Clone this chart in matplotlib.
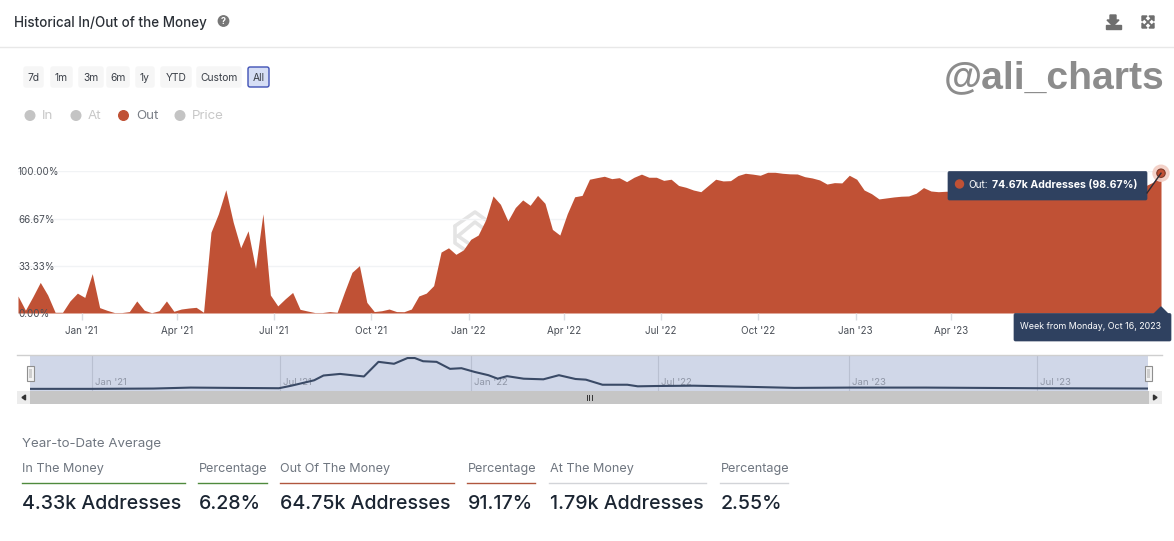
import matplotlib
matplotlib.use('Agg')
import matplotlib.pyplot as plt
import matplotlib.dates as mdates
from matplotlib.patches import Rectangle, Circle, FancyBboxPatch, Polygon
import pandas as pd

W, H = 1174, 541
plt.rcParams['font.family'] = ['Inter', 'DejaVu Sans']

# weekly share of addresses out of the money (%)
out_pct = [
    12, 2, 11.5, 21.6, 12.7, 0.5, 0.5, 8.5, 14, 11,
    27.8, 3.8, 1.9, 0.3, 0.3, 1, 8.5, 2, 0.2, 1.6,
    8.5, 1.2, 2.8, 3.5, 4, 0.5, 57, 70, 87, 64,
    46, 58, 31.5, 70, 12.7, 5, 10, 14.5, 2.6, 1.4,
    0.3, 0.3, 1, 0.5, 15, 28.7, 33.4, 7.5, 1, 1.6,
    2.8, 1, 0.9, 2.8, 12, 14, 19.3, 43, 46, 41.4,
    44.5, 52, 55, 65.6, 82.6, 76.7, 65, 74.4, 79.8, 76,
    83, 77.4, 59, 55, 70, 82, 83, 94.4, 95.5, 96.5,
    94.8, 95.5, 92.7, 95.8, 98, 95.8, 95.8, 93.6, 94.4, 90,
    88.7, 86.8, 85.6, 90, 94.4, 93.2, 93.4, 97, 98.6, 98,
    97.2, 99.3, 99.3, 98.6, 98.2, 98.1, 96.2, 95.3, 93.9, 91,
    92, 91.8, 97.2, 94.4, 86.8, 84.2, 80.5, 81.2, 81.9, 82.4,
    82.6, 84.5, 88.5, 86.1, 85.6, 85.9, 86, 86, 87, 87,
    88, 88, 89, 89, 90, 90, 90, 89, 89, 88,
    88, 88, 88, 87, 87, 87, 87, 87, 88, 88,
    88, 89, 90, 92.5, 98.67,
]
week_dates = pd.date_range('2020-11-02', periods=len(out_pct), freq='7D')

x_tick_dates = ['2021-01-01', '2021-04-01', '2021-07-01', '2021-10-01', '2022-01-01',
                '2022-04-01', '2022-07-01', '2022-10-01', '2023-01-01', '2023-04-01']
x_tick_labels = ["Jan '21", "Apr '21", "Jul '21", "Oct '21", "Jan '22",
                 "Apr '22", "Jul '22", "Oct '22", "Jan '23", "Apr '23"]
y_ticks = [0, 33.33, 66.67, 100]
y_tick_labels = ['0.00%', '33.33%', '66.67%', '100.00%']

# navigator line
nav_dates = ['2020-11-02', '2021-01-01', '2021-03-01', '2021-04-06', '2021-05-13', '2021-06-30',
             '2021-07-12', '2021-08-03', '2021-08-12', '2021-08-28', '2021-09-20', '2021-10-04',
             '2021-10-19', '2021-11-01', '2021-11-08', '2021-11-16', '2021-11-29', '2021-12-12',
             '2021-12-23', '2022-01-05', '2022-01-18', '2022-01-27', '2022-02-05', '2022-02-21',
             '2022-03-12', '2022-03-27', '2022-04-12', '2022-04-22', '2022-05-08', '2022-06-01',
             '2022-06-11', '2022-06-29', '2022-08-04', '2022-09-17', '2022-11-09', '2023-01-03',
             '2023-03-15', '2023-07-01', '2023-10-16']
nav_values = [2.8, 2.8, 3.7, 6.5, 5.6, 4.6,
              12, 27.8, 41.7, 46.3, 38.9, 81.5,
              75.9, 92.6, 92.6, 83.3, 81.5, 61.1,
              63, 51.9, 42.6, 32.4, 39.8, 32.4,
              30.6, 42.6, 31.5, 29.6, 14.8, 14.8,
              10.2, 11.1, 12, 9.3, 5.6, 6.5,
              6.5, 4.6, 3.7]
nav_tick_dates = ['2021-01-01', '2021-07-01', '2022-01-01', '2022-07-01', '2023-01-01', '2023-07-01']
nav_tick_labels = ["Jan '21", "Jul '21", "Jan '22", "Jul '22", "Jan '23", "Jul '23"]

range_buttons = ['7d', '1m', '3m', '6m', '1y', 'YTD', 'Custom', 'All']
legend_names = ['In', 'At', 'Out', 'Price']
stat_headers = ['In The Money', 'Percentage', 'Out Of The Money', 'Percentage', 'At The Money', 'Percentage']
stat_values = ['4.33k Addresses', '6.28%', '64.75k Addresses', '91.17%', '1.79k Addresses', '2.55%']

RUST = '#c05135'
NAVY = '#2f4160'
GREY_TXT = '#6f7680'


def px_axes(fig, left, top, right, bottom, **kw):
    return fig.add_axes([left / W, 1 - bottom / H, (right - left) / W, (bottom - top) / H], **kw)


def overlay(fig, z):
    a = fig.add_axes([0, 0, 1, 1], zorder=z)
    a.set_xlim(0, W)
    a.set_ylim(H, 0)
    a.axis('off')
    a.patch.set_alpha(0)
    return a


fig = plt.figure(figsize=(W / 100, H / 100), dpi=100, facecolor='white')
bg = overlay(fig, 0)
top = overlay(fig, 5)

# header
bg.text(14, 22.5, 'Historical In/Out of the Money', fontsize=9.65, fontweight=500, color='#2a2f36', va='center')
bg.add_patch(Circle((223.5, 21), 5.2, color='#777777'))
bg.text(223.5, 21.2, '?', fontsize=6.5, fontweight='bold', color='white', ha='center', va='center')
bg.plot([0, W], [47, 47], color='#e8e8e8', lw=1)

# download + expand icons
bg.add_patch(Rectangle((1106, 25), 15, 4, color='#6e6e6e'))
bg.add_patch(Polygon([(1110, 15), (1116, 15), (1116, 20), (1119, 20), (1113, 26), (1107, 20), (1110, 20)], color='#6e6e6e'))
bg.plot([1143, 1153], [17, 27], color='#6e6e6e', lw=1.4)
bg.plot([1143, 1153], [27, 17], color='#6e6e6e', lw=1.4)
for cx, cy, dx, dy in [(1143, 17, 1, 1), (1153, 17, -1, 1), (1143, 27, 1, -1), (1153, 27, -1, -1)]:
    bg.add_patch(Polygon([(cx - dx, cy - dy), (cx + 4 * dx, cy - dy), (cx - dx, cy + 4 * dy)], color='#6e6e6e'))

# watermark
bg.text(1164, 78, '@ali_charts', family=['Liberation Sans'], fontsize=28.2, fontweight='bold',
        color='#8c8c8c', ha='right', va='center')

# range buttons
btn_x = [(23, 44), (50, 73), (78, 104), (106, 130), (135, 155), (160, 192), (196, 242), (247, 270)]
for (x0, x1), name in zip(btn_x, range_buttons):
    active = name == 'All'
    bg.add_patch(FancyBboxPatch((x0 + 1, 67), x1 - x0 - 2, 20, boxstyle='round,pad=0,rounding_size=2',
                                fc='#d6def5' if active else '#f6f6f6',
                                ec='#3f51b5' if active else '#f6f6f6', lw=1))
    bg.text((x0 + x1) / 2, 77.8, name, fontsize=7.4, color='#3a3f47', ha='center', va='center')

# legend
for cx, tx, name in zip([30, 76, 123.5, 180], [42, 88, 136, 192], legend_names):
    on = name == 'Out'
    bg.add_patch(Circle((cx, 115.5), 4.8, color=RUST if on else '#c4c4c4'))
    bg.text(tx, 116.3, name, fontsize=9.6, color='#7a7f87' if on else '#c8c8c8', va='center')

# faint logo behind the area
for pts in [[(455, 226), (475, 212), (486, 220)], [(455, 226), (455, 243), (465, 250)],
            [(458, 236), (475, 222), (484, 229)], [(458, 236), (468, 243)]]:
    bg.plot(*zip(*pts), color='#e4e4e4', lw=2.6, solid_capstyle='round')

# main chart
ax = px_axes(fig, 18, 171.3, 1161, 313, zorder=2)
ax.patch.set_alpha(0)
for yt in y_ticks:
    ax.axhline(yt, color='#f1f3f5', lw=1, zorder=1)
# area stays under the axis artists so the 0.00% label sits on top of it
ax.fill_between(week_dates, out_pct, 0, color=RUST, lw=0, zorder=1.2)
ax.set_xlim(week_dates[0], week_dates[-1])
ax.set_ylim(0, 100)
for s in ax.spines.values():
    s.set_visible(False)
ax.set_yticks(y_ticks, y_tick_labels)
ax.tick_params(axis='y', length=0, pad=0, labelsize=7.1, labelcolor='#4a4f57')
for lab in ax.get_yticklabels():
    lab.set_ha('left')
ax.set_xticks(pd.to_datetime(x_tick_dates), x_tick_labels)
ax.tick_params(axis='x', length=5, width=1, color='#d9dde3', pad=4.5, labelsize=7.1, labelcolor='#4a4f57')

# tooltips and hover marker
top.plot([1147, 1161], [193, 173.2], color='#2b2b33', lw=1)
top.add_patch(Circle((1161, 173.2), 8, color='#f3cfc5', alpha=0.9))
top.add_patch(Circle((1161, 173.2), 4.2, fc=RUST, ec='#7d3a2a', lw=0.8))
top.add_patch(FancyBboxPatch((948, 171.5), 199, 28.5, boxstyle='round,pad=0,rounding_size=1.5', fc=NAVY, ec=NAVY, lw=0.5))
top.add_patch(Circle((959.5, 184), 4, color=RUST))
top.text(968, 184.8, 'Out:', fontsize=7.2, color='white', va='center')
top.text(992, 184.8, '74.67k Addresses (98.67%)', fontsize=7.6, fontweight='bold', color='white', va='center')
top.add_patch(FancyBboxPatch((1014, 313.5), 157, 27.5, boxstyle='round,pad=0,rounding_size=1.5', fc=NAVY, ec=NAVY, lw=0.5))
top.add_patch(Polygon([(1154, 314), (1161, 307), (1168, 314)], color=NAVY))
top.text(1020, 326.5, 'Week from Monday, Oct 16, 2023', fontsize=6.4, color='white', va='center')

# navigator
nav = px_axes(fig, 30, 355.5, 1148, 390.5, zorder=2)
nav.set_facecolor('#d0d7e8')
nav.set_xlim(week_dates[0], week_dates[-1])
nav.set_ylim(-2, 100)
nav.set_yticks([])
nav.set_xticks(pd.to_datetime(nav_tick_dates), [''] * len(nav_tick_dates))
nav.tick_params(axis='x', length=0)
nav.grid(axis='x', color='#b9c0d1', lw=0.8)
for s in nav.spines.values():
    s.set_visible(False)
for d, lab in zip(pd.to_datetime(nav_tick_dates), nav_tick_labels):
    nav.annotate(lab, (mdates.date2num(d), 20), xytext=(3, 0), textcoords='offset pixels',
                 fontsize=6.9, color='#8f96a6', va='center', zorder=1)
nav.plot(pd.to_datetime(nav_dates), nav_values, color='#3a4a66', lw=1.5, zorder=3)

top.plot([17, 1162], [355, 355], color='#cfcfcf', lw=1)
for hx in (30, 1148):
    top.add_patch(Rectangle((hx - 3.5, 366), 7, 15, fc='#f4f4f4', ec='#8f8f8f', lw=0.8))
    top.add_patch(Rectangle((hx - 1.5, 369), 3, 9, fc='#cfcfcf', ec='none'))
top.add_patch(Rectangle((17, 391), 1145, 13, color='#c6c6c6', lw=0))
top.add_patch(Rectangle((17, 391), 13, 13, color='#ececec', lw=0))
top.add_patch(Rectangle((1149, 391), 13, 13, color='#ececec', lw=0))
top.add_patch(Polygon([(25.5, 395), (25.5, 400), (22, 397.5)], color='#333333'))
top.add_patch(Polygon([(1153.5, 395), (1153.5, 400), (1157, 397.5)], color='#333333'))
for gx in (586.5, 589, 591.5):
    top.plot([gx, gx], [395, 400], color='#333333', lw=0.7)

# year-to-date stats
bg.text(22, 444, 'Year-to-Date Average', fontsize=9.55, color=GREY_TXT, va='center')
col_x = [(22, 185), (198, 267), (280, 454), (467, 535), (549, 706), (720, 788)]
col_c = ['#4f8a3d', '#4f8a3d', '#b0573f', '#b0573f', '#d2d4d8', '#d2d4d8']
for (x0, x1), c, head, val in zip(col_x, col_c, stat_headers, stat_values):
    bg.text(x0 + 0.5, 469, head, fontsize=9.1, color=GREY_TXT, va='center')
    bg.plot([x0, x1], [482.5, 482.5], color=c, lw=1)
    bg.text(x0 + 0.5, 504, val, fontsize=14.1, fontweight=500, color='#1b2532', va='center')

fig.savefig('out.png', dpi=100)
